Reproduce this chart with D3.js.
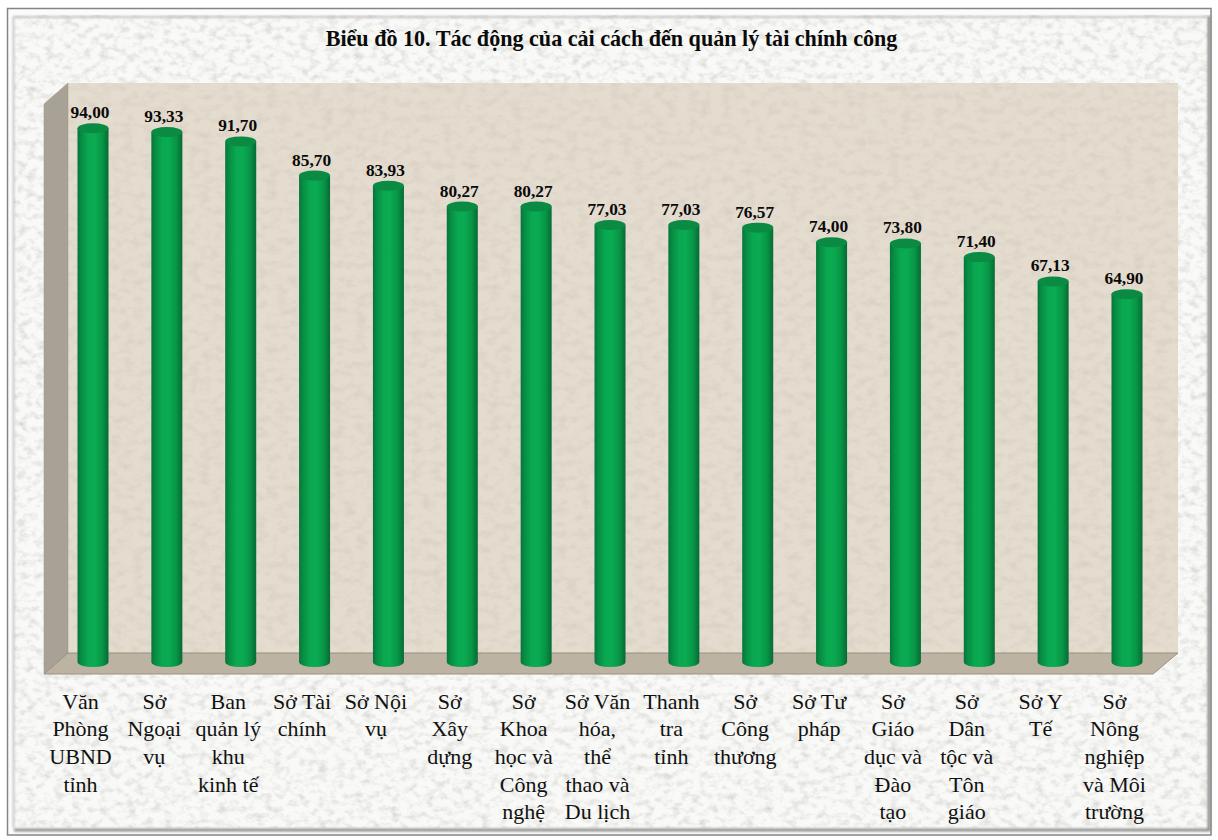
<!DOCTYPE html>
<html><head><meta charset="utf-8">
<script src="https://cdn.jsdelivr.net/npm/d3@7"></script>
<style>html,body{margin:0;padding:0;background:#fff}svg{display:block}</style>
</head><body><div id="c"></div>
<script>
const titleText = "Biểu đồ 10. Tác động của cải cách đến quản lý tài chính công";
const categories = ["Văn|Phòng|UBND|tỉnh","Sở|Ngoại|vụ","Ban|quản lý|khu|kinh tế","Sở Tài|chính","Sở Nội|vụ","Sở|Xây|dựng","Sở|Khoa|học và|Công|nghệ","Sở Văn|hóa,|thể|thao và|Du lịch","Thanh|tra|tỉnh","Sở|Công|thương","Sở Tư|pháp","Sở|Giáo|dục và|Đào|tạo","Sở|Dân|tộc và|Tôn|giáo","Sở Y|Tế","Sở|Nông|nghiệp|và Môi|trường"];
const values = [94.00,93.33,91.70,85.70,83.93,80.27,80.27,77.03,77.03,76.57,74.00,73.80,71.40,67.13,64.90];

const W=1218,H=840;
const svg=d3.select("#c").append("svg").attr("width",W).attr("height",H);
const defs=svg.append("defs");

function stone(id,freq,slope,icpt,color,seed){
  const f=defs.append("filter").attr("id",id).attr("x",0).attr("y",0).attr("width","100%").attr("height","100%");
  f.append("feTurbulence").attr("type","fractalNoise").attr("baseFrequency",freq).attr("numOctaves",4).attr("seed",seed).attr("result","n");
  f.append("feColorMatrix").attr("in","n").attr("type","matrix")
    .attr("values",`0 0 0 0 0  0 0 0 0 0  0 0 0 0 0  ${slope} 0 0 0 ${icpt}`).attr("result","a");
  f.append("feFlood").attr("flood-color",color).attr("result","col");
  f.append("feComposite").attr("in","col").attr("in2","a").attr("operator","in").attr("result","sp");
  f.append("feMerge").call(s=>{s.append("feMergeNode").attr("in","SourceGraphic");s.append("feMergeNode").attr("in","sp");});
}
stone("paper","0.11 0.15",0.9,-0.40,"#9a9a96",7);
stone("wall","0.09 0.13",0.5,-0.22,"#b0a592",11);

const blur=defs.append("filter").attr("id","soft").attr("x","-5%").attr("y","-5%").attr("width","110%").attr("height","110%");
blur.append("feGaussianBlur").attr("stdDeviation",1.3);

const g=defs.append("linearGradient").attr("id","bar").attr("x1",0).attr("x2",1).attr("y1",0).attr("y2",0);
[[0,"#07733a"],[0.12,"#078c43"],[0.35,"#0aa851"],[0.55,"#0aab52"],[0.8,"#089546"],[1,"#066a34"]].forEach(d=>g.append("stop").attr("offset",d[0]).attr("stop-color",d[1]));

// page, frame
svg.append("rect").attr("width",W).attr("height",H).attr("fill","#fff");
svg.append("rect").attr("x",7).attr("y",8).attr("width",1205).attr("height",828).attr("fill","#fbfbfa");
svg.append("rect").attr("x",14).attr("y",15).attr("width",1196).attr("height",813).attr("fill","#f9f9f7").attr("filter","url(#paper)");
const fr=svg.append("g").attr("fill","none");
fr.append("path").attr("d","M13.5 828V17H1206").attr("stroke","#b5b5b5").attr("stroke-width",1.5).attr("filter","url(#soft)");
fr.append("path").attr("d","M14 830H1209V16").attr("stroke","#8f8f8f").attr("stroke-width",3).attr("filter","url(#soft)");
fr.append("path").attr("d","M7.5 8.5H1211V835H7.5Z").attr("stroke","#858585").attr("stroke-width",1.5);

// plot box
const x=d3.scalePoint().domain(d3.range(categories.length)).range([93,1127]);
const y=d3.scaleLinear().domain([0,100]).range([664.1,94.1]);
const base=y(0)-2, bw=31, ry=5;
const wl=68,wr=1178,wt=83,wb=653,fl=44,fr2=1153,fb=674,dt=104;
svg.append("rect").attr("x",wl).attr("y",wt).attr("width",wr-wl).attr("height",wb-wt).attr("fill","#e4dccf").attr("filter","url(#wall)");
svg.append("path").attr("d",`M${fl} ${dt}L${wl} ${wt}V${wb}L${fl} ${fb}Z`).attr("fill","#a8a296").attr("stroke","#99948a").attr("stroke-width",.5);
svg.append("path").attr("d",`M${fl} ${fb}L${wl} ${wb}H${wr}L${fr2} ${fb}Z`).attr("fill","#bdb3a3").attr("stroke","#98917f").attr("stroke-width",1);

// cylinders
const bars=svg.append("g").selectAll("g").data(values).join("g");
bars.append("path").attr("fill","url(#bar)").attr("d",(v,i)=>{
  const l=x(i)-bw/2,r=x(i)+bw/2,t=y(v);
  return `M${l} ${t}V${base}A${bw/2} ${ry} 0 0 0 ${r} ${base}V${t}Z`;
});
bars.append("ellipse").attr("cx",(v,i)=>x(i)).attr("cy",v=>y(v)).attr("rx",bw/2).attr("ry",ry).attr("fill","#0a8a42");
bars.append("text").attr("x",(v,i)=>x(i)-3).attr("y",v=>y(v)-10).attr("text-anchor","middle")
  .attr("font-family","'Liberation Serif',serif").attr("font-weight","bold").attr("font-size",17).attr("fill","#0a0a0a")
  .attr("textLength",39).attr("lengthAdjust","spacingAndGlyphs")
  .text(v=>d3.format(".2f")(v).replace(".",","));

// category labels
const cat=svg.append("g").selectAll("text").data(categories).join("text")
  .attr("text-anchor","middle").attr("font-family","'Liberation Serif',serif").attr("font-size",22).attr("fill","#111");
cat.each(function(c,i){
  d3.select(this).selectAll("tspan").data(c.split("|")).join("tspan")
    .attr("x",x(i)-12.5).attr("y",(d,k)=>708.5+k*27.7).text(d=>d);
});

// title
svg.append("text").attr("x",611.5).attr("y",46).attr("text-anchor","middle")
  .attr("font-family","'Liberation Serif',serif").attr("font-weight","bold").attr("font-size",22.1).attr("fill","#0a0a0a").text(titleText);
</script></body></html>
